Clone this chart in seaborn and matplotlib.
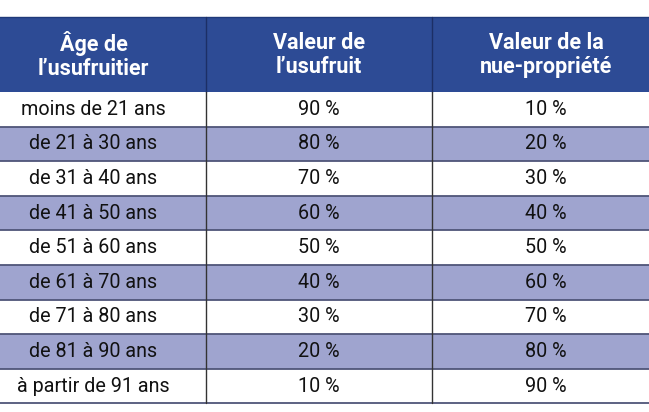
import numpy as np
import seaborn as sns
import matplotlib.pyplot as plt
from matplotlib.patches import Rectangle

headers = ["Âge de\nl\u2019usufruitier", "Valeur de\nl\u2019usufruit", "Valeur de la\nnue-propriété"]
ages = ["moins de 21 ans", "de 21 à 30 ans", "de 31 à 40 ans", "de 41 à 50 ans",
        "de 51 à 60 ans", "de 61 à 70 ans", "de 71 à 80 ans", "de 81 à 90 ans",
        "à partir de 91 ans"]
usufruit = [90, 80, 70, 60, 50, 40, 30, 20, 10]
nue_propriete = [10, 20, 30, 40, 50, 60, 70, 80, 90]

# layout in pixel units (table is cropped on both sides)
col_edges = [-19, 206, 432, 660]
head_top, head_bot = 16.5, 92
row_h = 34.6
header_blue = "#2d4b95"
stripe = "#9fa4cf"

sns.set_theme(style="white")
plt.rcParams['font.family'] = ['Roboto', 'DejaVu Sans']

fig = plt.figure(figsize=(6.49, 4.12), dpi=100)
ax = fig.add_axes([0, 0, 1, 1])
ax.set_xlim(0, 649)
ax.set_ylim(412, 0)
ax.axis("off")

# header band
ax.add_patch(Rectangle((col_edges[0], head_top), col_edges[-1] - col_edges[0],
                       head_bot - head_top, color=header_blue, lw=0))
for i, h in enumerate(headers):
    cx = (col_edges[i] + col_edges[i + 1]) / 2
    ax.text(cx, (head_top + head_bot) / 2 + 1, h, ha="center", va="center",
            color="white", fontsize=15.5, fontweight="bold", linespacing=1.1)

# body rows
n = len(ages)
ys = head_bot + row_h * (np.arange(n) + 0.5)
colors = [stripe if i % 2 else "white" for i in range(n)]
ax.barh(ys, col_edges[-1] - col_edges[0], height=row_h, left=col_edges[0],
        color=colors, edgecolor="none")
for y in head_bot + row_h * np.arange(1, n + 1):
    ax.plot([col_edges[0], col_edges[-1]], [y, y], color="#4f5578", lw=1.3)
ax.plot([col_edges[0], col_edges[-1]], [head_top, head_top], color="#1f3a7a", lw=1)

for x in col_edges[1:-1]:
    ax.plot([x, x], [head_top, head_bot], color="#1c2f66", lw=1)
    ax.plot([x, x], [head_bot, head_bot + row_h * n], color="#333333", lw=1)

centers = [(col_edges[i] + col_edges[i + 1]) / 2 for i in range(3)]
for y, a, u, np_ in zip(ys, ages, usufruit, nue_propriete):
    for cx, t in zip(centers, [a, f"{u} %", f"{np_} %"]):
        ax.text(cx, y, t, ha="center", va="center", color="#111111",
                fontsize=14.2)

fig.savefig("out.png", dpi=100)
